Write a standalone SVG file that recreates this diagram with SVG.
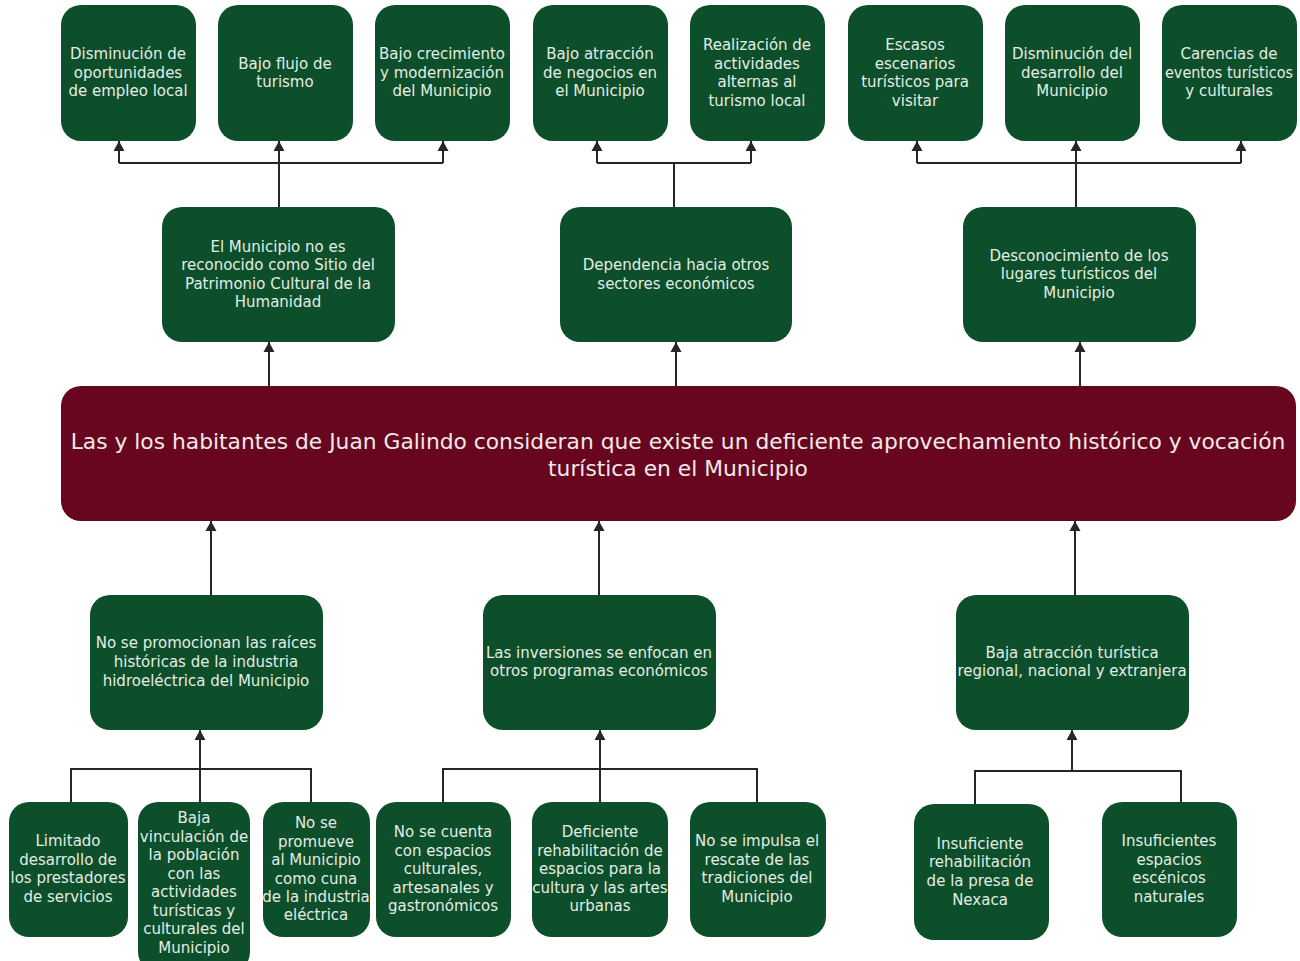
<svg xmlns="http://www.w3.org/2000/svg" width="1300" height="961" viewBox="0 0 1300 961">
  <defs>
    <marker id="arrow" markerUnits="userSpaceOnUse" markerWidth="12" markerHeight="12" refX="10" refY="6" orient="auto">
      <path d="M0,0.5 L10,6 L0,11.5 z" fill="#262626"/>
    </marker>
    <style>
      .box { fill: #0c4f2a; }
      .core { fill: #67061e; }
      .t { font-family: "DejaVu Sans", "Liberation Sans", sans-serif; font-size: 15px; fill: #e4ece6; text-anchor: middle; }
      .tm { font-family: "DejaVu Sans", "Liberation Sans", sans-serif; font-size: 21.8px; fill: #f1e8ea; text-anchor: middle; }
      .ln { fill: none; stroke: #262626; stroke-width: 2; }
      .ar { fill: none; stroke: #262626; stroke-width: 2; marker-end: url(#arrow); }
    </style>
  </defs>
  <rect width="1300" height="961" fill="#ffffff"/>

  <!-- connectors -->
  <g id="connectors">
    <!-- effects, left group -->
    <path class="ln" d="M279,207 V163 M119,163 H443"/>
    <line class="ar" x1="119" y1="163" x2="119" y2="141"/>
    <line class="ar" x1="279" y1="163" x2="279" y2="141"/>
    <line class="ar" x1="443" y1="163" x2="443" y2="141"/>
    <!-- effects, middle group -->
    <path class="ln" d="M674,207 V163 M597,163 H751"/>
    <line class="ar" x1="597" y1="163" x2="597" y2="141"/>
    <line class="ar" x1="751" y1="163" x2="751" y2="141"/>
    <!-- effects, right group -->
    <path class="ln" d="M1076,207 V163 M917,163 H1241"/>
    <line class="ar" x1="917" y1="163" x2="917" y2="141"/>
    <line class="ar" x1="1076" y1="163" x2="1076" y2="141"/>
    <line class="ar" x1="1241" y1="163" x2="1241" y2="141"/>
    <!-- core problem to direct effects -->
    <line class="ar" x1="269" y1="386" x2="269" y2="342"/>
    <line class="ar" x1="676" y1="386" x2="676" y2="342"/>
    <line class="ar" x1="1080" y1="386" x2="1080" y2="342"/>
    <!-- direct causes to core problem -->
    <line class="ar" x1="211" y1="595" x2="211" y2="521"/>
    <line class="ar" x1="599" y1="595" x2="599" y2="521"/>
    <line class="ar" x1="1075" y1="595" x2="1075" y2="521"/>
    <!-- root causes -->
    <path class="ln" d="M71,802 V769 H311 V802"/>
    <line class="ar" x1="200" y1="802" x2="200" y2="730"/>
    <path class="ln" d="M443,802 V769 H757 V802"/>
    <line class="ar" x1="600" y1="802" x2="600" y2="730"/>
    <path class="ln" d="M975,804 V771 H1181 V802"/>
    <line class="ar" x1="1072" y1="771" x2="1072" y2="730"/>
  </g>

  <!-- effects -->
  <g id="e1"><rect class="box" x="61" y="5" width="135" height="136" rx="20"/>
    <text class="t"><tspan x="128" y="59">Disminución de</tspan><tspan x="128" y="78">oportunidades</tspan><tspan x="128" y="96">de empleo local</tspan></text></g>
  <g id="e2"><rect class="box" x="218" y="5" width="135" height="136" rx="20"/>
    <text class="t"><tspan x="285" y="69">Bajo flujo de</tspan><tspan x="285" y="87">turismo</tspan></text></g>
  <g id="e3"><rect class="box" x="375" y="5" width="135" height="136" rx="20"/>
    <text class="t"><tspan x="442" y="59">Bajo crecimiento</tspan><tspan x="442" y="78">y modernización</tspan><tspan x="442" y="96">del Municipio</tspan></text></g>
  <g id="e4"><rect class="box" x="533" y="5" width="135" height="136" rx="20"/>
    <text class="t"><tspan x="600" y="59">Bajo atracción</tspan><tspan x="600" y="78">de negocios en</tspan><tspan x="600" y="96">el Municipio</tspan></text></g>
  <g id="e5"><rect class="box" x="690" y="5" width="135" height="136" rx="20"/>
    <text class="t"><tspan x="757" y="50">Realización de</tspan><tspan x="757" y="69">actividades</tspan><tspan x="757" y="87">alternas al</tspan><tspan x="757" y="106">turismo local</tspan></text></g>
  <g id="e6"><rect class="box" x="848" y="5" width="135" height="136" rx="20"/>
    <text class="t"><tspan x="915" y="50">Escasos</tspan><tspan x="915" y="69">escenarios</tspan><tspan x="915" y="87">turísticos para</tspan><tspan x="915" y="106">visitar</tspan></text></g>
  <g id="e7"><rect class="box" x="1005" y="5" width="135" height="136" rx="20"/>
    <text class="t"><tspan x="1072" y="59">Disminución del</tspan><tspan x="1072" y="78">desarrollo del</tspan><tspan x="1072" y="96">Municipio</tspan></text></g>
  <g id="e8"><rect class="box" x="1162" y="5" width="135" height="136" rx="20"/>
    <text class="t"><tspan x="1229" y="59">Carencias de</tspan><tspan x="1229" y="78" textLength="128" lengthAdjust="spacingAndGlyphs">eventos turísticos</tspan><tspan x="1229" y="96">y culturales</tspan></text></g>

  <!-- direct effects -->
  <g id="d1"><rect class="box" x="162" y="207" width="233" height="135" rx="20"/>
    <text class="t"><tspan x="278" y="252">El Municipio no es</tspan><tspan x="278" y="270">reconocido como Sitio del</tspan><tspan x="278" y="289">Patrimonio Cultural de la</tspan><tspan x="278" y="307">Humanidad</tspan></text></g>
  <g id="d2"><rect class="box" x="560" y="207" width="232" height="135" rx="20"/>
    <text class="t"><tspan x="676" y="270">Dependencia hacia otros</tspan><tspan x="676" y="289">sectores económicos</tspan></text></g>
  <g id="d3"><rect class="box" x="963" y="207" width="233" height="135" rx="20"/>
    <text class="t"><tspan x="1079" y="261">Desconocimiento de los</tspan><tspan x="1079" y="279">lugares turísticos del</tspan><tspan x="1079" y="298">Municipio</tspan></text></g>

  <!-- core problem -->
  <g id="core"><rect class="core" x="61" y="386" width="1235" height="135" rx="20"/>
    <text class="tm"><tspan x="678" y="449">Las y los habitantes de Juan Galindo consideran que existe un deficiente aprovechamiento histórico y vocación</tspan><tspan x="678" y="476">turística en el Municipio</tspan></text></g>

  <!-- direct causes -->
  <g id="c1"><rect class="box" x="90" y="595" width="233" height="135" rx="20"/>
    <text class="t"><tspan x="206" y="648">No se promocionan las raíces</tspan><tspan x="206" y="667">históricas de la industria</tspan><tspan x="206" y="686">hidroeléctrica del Municipio</tspan></text></g>
  <g id="c2"><rect class="box" x="483" y="595" width="233" height="135" rx="20"/>
    <text class="t"><tspan x="599" y="658">Las inversiones se enfocan en</tspan><tspan x="599" y="676">otros programas económicos</tspan></text></g>
  <g id="c3"><rect class="box" x="956" y="595" width="233" height="135" rx="20"/>
    <text class="t"><tspan x="1072" y="658">Baja atracción turística</tspan><tspan x="1072" y="676">regional, nacional y extranjera</tspan></text></g>

  <!-- root causes -->
  <g id="r1"><rect class="box" x="9" y="802" width="119" height="135" rx="20"/>
    <text class="t"><tspan x="68" y="846">Limitado</tspan><tspan x="68" y="865">desarrollo de</tspan><tspan x="68" y="883">los prestadores</tspan><tspan x="68" y="902">de servicios</tspan></text></g>
  <g id="r2"><rect class="box" x="138" y="802" width="112" height="170" rx="20"/>
    <text class="t"><tspan x="194" y="823">Baja</tspan><tspan x="194" y="842">vinculación de</tspan><tspan x="194" y="860">la población</tspan><tspan x="194" y="879">con las</tspan><tspan x="194" y="897">actividades</tspan><tspan x="194" y="916">turísticas y</tspan><tspan x="194" y="934">culturales del</tspan><tspan x="194" y="953">Municipio</tspan></text></g>
  <g id="r3"><rect class="box" x="263" y="802" width="107" height="135" rx="20"/>
    <text class="t"><tspan x="316" y="828">No se</tspan><tspan x="316" y="847">promueve</tspan><tspan x="316" y="865">al Municipio</tspan><tspan x="316" y="884">como cuna</tspan><tspan x="316" y="902">de la industria</tspan><tspan x="316" y="920">eléctrica</tspan></text></g>
  <g id="r4"><rect class="box" x="376" y="802" width="135" height="135" rx="20"/>
    <text class="t"><tspan x="443" y="837">No se cuenta</tspan><tspan x="443" y="856">con espacios</tspan><tspan x="443" y="874">culturales,</tspan><tspan x="443" y="893">artesanales y</tspan><tspan x="443" y="911">gastronómicos</tspan></text></g>
  <g id="r5"><rect class="box" x="532" y="802" width="136" height="135" rx="20"/>
    <text class="t"><tspan x="600" y="837">Deficiente</tspan><tspan x="600" y="856">rehabilitación de</tspan><tspan x="600" y="874">espacios para la</tspan><tspan x="600" y="893">cultura y las artes</tspan><tspan x="600" y="911">urbanas</tspan></text></g>
  <g id="r6"><rect class="box" x="690" y="802" width="136" height="135" rx="20"/>
    <text class="t"><tspan x="757" y="846">No se impulsa el</tspan><tspan x="757" y="865">rescate de las</tspan><tspan x="757" y="883">tradiciones del</tspan><tspan x="757" y="902">Municipio</tspan></text></g>
  <g id="r7"><rect class="box" x="914" y="804" width="135" height="136" rx="20"/>
    <text class="t"><tspan x="980" y="849">Insuficiente</tspan><tspan x="980" y="867">rehabilitación</tspan><tspan x="980" y="886">de la presa de</tspan><tspan x="980" y="905">Nexaca</tspan></text></g>
  <g id="r8"><rect class="box" x="1102" y="802" width="135" height="135" rx="20"/>
    <text class="t"><tspan x="1169" y="846">Insuficientes</tspan><tspan x="1169" y="865">espacios</tspan><tspan x="1169" y="883">escénicos</tspan><tspan x="1169" y="902">naturales</tspan></text></g>
</svg>
